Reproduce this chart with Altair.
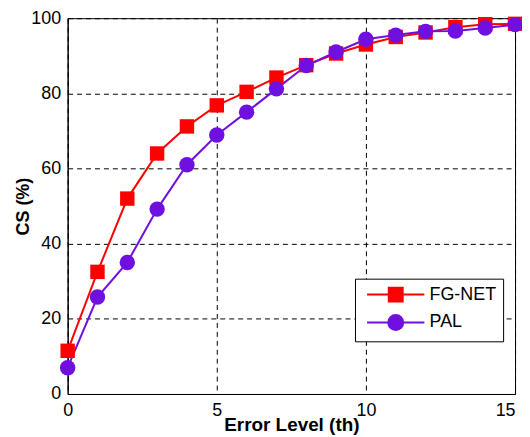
import altair as alt
import pandas as pd

levels = list(range(16))
fgnet = [11.5, 32.5, 52.0, 64.0, 71.2, 76.8, 80.4, 84.2, 87.5, 90.6, 93.0, 95.0, 96.2, 97.6, 98.4, 98.5]
pal = [7.0, 25.8, 35.0, 49.2, 61.0, 68.9, 75.0, 81.2, 87.4, 91.0, 94.4, 95.5, 96.5, 96.6, 97.4, 98.3]
series = ["FG-NET", "PAL"]
colors = ["#FF0000", "#7010E0"]
shapes = ["square", "circle"]
marker_sizes = [210, 240]
x_ticks = [0, 5, 10, 15]
y_ticks = [0, 20, 40, 60, 80, 100]

rows = []
for name, vals in zip(series, [fgnet, pal]):
    for lv, v in zip(levels, vals):
        rows.append({"level": lv, "cs": v, "series": name})
df = pd.DataFrame(rows)

sq_path = "M-3.6,0H3.6M-0.875,-0.875H0.875V0.875H-0.875Z"
ci_path = "M-3.6,0H3.6M0.94,0A0.94,0.94,0,1,1,-0.94,0A0.94,0.94,0,1,1,0.94,0Z"
shape_expr = f"datum.value === '{series[0]}' ? '{sq_path}' : '{ci_path}'"
color_expr = f"datum.value === '{series[0]}' ? '{colors[0]}' : '{colors[1]}'"

legend = alt.Legend(
    title=None,
    orient="none",
    legendX=289,
    legendY=262,
    strokeColor="black",
    fillColor="white",
    padding=7,
    symbolSize=256,
    symbolOffset=25,
    labelOffset=25,
    rowPadding=5,
    labelFont="Liberation Sans",
    labelFontSize=18,
    labelColor="black",
    symbolStrokeWidth=2,
    symbolOpacity=1,
    symbolType={"expr": shape_expr},
    symbolFillColor={"expr": color_expr},
    symbolStrokeColor={"expr": color_expr},
)

color = alt.Color("series:N", scale=alt.Scale(domain=series, range=colors), legend=legend)

last_x = x_ticks[-1]
x = alt.X(
    "level:Q",
    scale=alt.Scale(domain=[0, 15], nice=False),
    axis=alt.Axis(values=x_ticks, title="Error Level (th)", labelPadding=8, labelFlush=False,
                  labelAlign={"expr": f"datum.value === {last_x} ? 'right' : 'center'"},
                  titleX=225, titleY=37, titleBaseline="alphabetic", titleFontSize=19),
)
y = alt.Y(
    "cs:Q",
    scale=alt.Scale(domain=[0, 100], nice=False),
    axis=alt.Axis(values=y_ticks, title="CS (%)", labelPadding=7, labelFlush=False,
                  titleX=-44, titleY=189, titleAngle=-90, titleBaseline="middle"),
)

base = alt.Chart(df)
lines = base.mark_line(strokeWidth=2).encode(x=x, y=y, color=color, detail="series:N")
point_layers = [
    base.transform_filter(alt.datum.series == name)
    .mark_point(filled=True, size=sz, opacity=1, shape=shp)
    .encode(x=x, y=y, color=color)
    for name, shp, sz in zip(series, shapes, marker_sizes)
]

chart = (
    alt.layer(lines, *point_layers)
    .properties(
        width=450,
        height=378,
        autosize=alt.AutoSizeParams(type="none"),
        padding={"left": 60, "top": 9, "right": 7, "bottom": 42},
    )
    .configure_view(stroke="black", strokeWidth=1)
    .configure_axis(
        labelFont="Liberation Sans",
        labelFontSize=18,
        labelColor="black",
        titleFont="Liberation Sans",
        titleFontSize=18,
        titleFontWeight="bold",
        titleColor="black",
        domainColor="black",
        domainWidth=1,
        ticks=False,
        gridColor="black",
        gridDash=[5, 4],
        gridOpacity=1,
        gridWidth=1,
    )
)

chart.save("out.html", embed_options={"renderer": "svg", "actions": False})
